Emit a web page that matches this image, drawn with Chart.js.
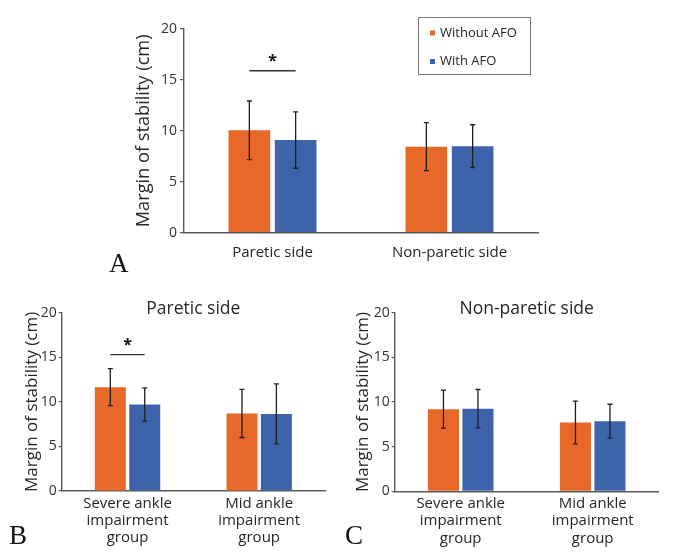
<!DOCTYPE html>
<html>
<head>
<meta charset="utf-8">
<script src="https://cdn.jsdelivr.net/npm/chart.js@4.4.1/dist/chart.umd.min.js"></script>
<style>
  body { margin: 0; background: #fff; }
  #wrap { position: relative; width: 676px; height: 557px; overflow: hidden; }
  canvas { position: absolute; }
  .panel { position: absolute; font-family: "Liberation Serif", "Times New Roman", serif; font-size: 27px; color: #111; line-height: 1; }
</style>
</head>
<body>
<div id="wrap">
  <canvas id="chartA" style="left:0;top:0"></canvas>
  <canvas id="chartB" style="left:0;top:290px"></canvas>
  <canvas id="chartC" style="left:338px;top:290px"></canvas>
  <div class="panel" style="left:109px;top:250px">A</div>
  <div class="panel" style="left:9px;top:522px">B</div>
  <div class="panel" style="left:345px;top:522px">C</div>
</div>
<script>
// data (mean and SD of margin of stability, cm)
const seriesNames = ['Without AFO', 'With AFO'];
const seriesColors = ['#E8682A', '#3D64AB'];

const sideLabels = ['Paretic side', 'Non-paretic side'];
const sideWithout = [10.05, 8.45];
const sideWith = [9.1, 8.5];
const sideWithoutSD = [2.88, 2.35];
const sideWithSD = [2.77, 2.1];

const groupLabels = [['Severe ankle', 'impairment', 'group'], ['Mid ankle', 'impairment', 'group']];
const pareticWithout = [11.65, 8.7];
const pareticWith = [9.7, 8.65];
const pareticWithoutSD = [2.08, 2.7];
const pareticWithSD = [1.87, 3.37];

const nonPareticWithout = [9.2, 7.7];
const nonPareticWith = [9.25, 7.85];
const nonPareticWithoutSD = [2.12, 2.4];
const nonPareticWithSD = [2.15, 1.9];

const yTicks = [0, 5, 10, 15, 20];
const FONT = '"Open Sans", "Noto Sans", sans-serif';
const AXIS = '#5a5a5a';
const TEXT = '#262626';

// error bars drawn from the sd arrays through the y scale
const errorBars = {
  id: 'errorBars',
  afterDatasetsDraw(chart) {
    const ctx = chart.ctx, y = chart.scales.y;
    ctx.save();
    ctx.strokeStyle = '#1e1e1e';
    ctx.lineWidth = 1.3;
    chart.data.datasets.forEach((ds, i) => {
      chart.getDatasetMeta(i).data.forEach((bar, j) => {
        const top = y.getPixelForValue(ds.data[j] + ds.sd[j]);
        const bot = y.getPixelForValue(ds.data[j] - ds.sd[j]);
        ctx.beginPath();
        ctx.moveTo(bar.x, top); ctx.lineTo(bar.x, bot);
        ctx.moveTo(bar.x - 2.5, top); ctx.lineTo(bar.x + 2.5, top);
        ctx.moveTo(bar.x - 2.5, bot); ctx.lineTo(bar.x + 2.5, bot);
        ctx.stroke();
      });
    });
    ctx.restore();
  }
};

// significance bracket + asterisk
const sigMark = {
  id: 'sigMark',
  afterDraw(chart, args, opts) {
    if (!opts.level) return;
    const ctx = chart.ctx, y = chart.scales.y;
    const a = chart.getDatasetMeta(0).data[opts.index];
    const b = chart.getDatasetMeta(1).data[opts.index];
    const py = y.getPixelForValue(opts.level);
    ctx.save();
    ctx.strokeStyle = '#333';
    ctx.lineWidth = 1.3;
    ctx.beginPath();
    ctx.moveTo(a.x, py); ctx.lineTo(b.x, py);
    ctx.stroke();
    ctx.fillStyle = '#111';
    ctx.font = 'bold 16px ' + FONT;
    ctx.textAlign = 'center';
    ctx.textBaseline = 'middle';
    ctx.fillText('*', (a.x + b.x) / 2, py - 9);
    ctx.restore();
  }
};

// panel title centred over the plot area
const panelTitle = {
  id: 'panelTitle',
  afterDraw(chart, args, opts) {
    if (!opts.text) return;
    const ctx = chart.ctx, area = chart.chartArea;
    ctx.save();
    ctx.fillStyle = TEXT;
    ctx.font = '17.5px ' + FONT;
    ctx.textAlign = 'center';
    ctx.textBaseline = 'middle';
    ctx.fillText(opts.text, (area.left + area.right) / 2, area.top - 4);
    ctx.restore();
  }
};

// boxed legend in the top right of panel A
const boxLegend = {
  id: 'boxLegend',
  afterDraw(chart, args, opts) {
    if (!opts.show) return;
    const ctx = chart.ctx;
    ctx.save();
    ctx.strokeStyle = '#7a7a7a';
    ctx.lineWidth = 1;
    ctx.strokeRect(418.5, 17.5, 112, 57);
    ctx.font = '13px ' + FONT;
    ctx.textBaseline = 'middle';
    chart.data.datasets.forEach((ds, i) => {
      const cy = 33 + i * 28.5;
      ctx.fillStyle = ds.backgroundColor;
      ctx.fillRect(430, cy - 2.5, 5, 5);
      ctx.fillStyle = TEXT;
      ctx.fillText(ds.label, 440, cy);
    });
    ctx.restore();
  }
};

function makeChart(id, w, h, labels, without, withAfo, sdWithout, sdWith, cfg) {
  const canvas = document.getElementById(id);
  canvas.width = w; canvas.height = h;
  canvas.style.width = w + 'px'; canvas.style.height = h + 'px';
  return new Chart(canvas, {
    type: 'bar',
    data: {
      labels: labels,
      datasets: [
        { label: seriesNames[0], data: without, sd: sdWithout, backgroundColor: seriesColors[0] },
        { label: seriesNames[1], data: withAfo, sd: sdWith, backgroundColor: seriesColors[1] }
      ]
    },
    options: {
      responsive: false,
      animation: false,
      devicePixelRatio: 1,
      layout: { padding: cfg.padding },
      categoryPercentage: 0.523,
      barPercentage: 0.9,
      plugins: {
        legend: { display: false },
        tooltip: { enabled: false },
        sigMark: cfg.sig || {},
        panelTitle: { text: cfg.title },
        boxLegend: { show: !!cfg.legend }
      },
      scales: {
        x: {
          grid: { display: false },
          border: { color: AXIS, width: 1.4 },
          ticks: {
            color: TEXT, padding: cfg.xPad, maxRotation: 0, autoSkip: false,
            font: { family: FONT, size: 15, lineHeight: 1.15 }
          },
          afterFit: s => { s.height = cfg.xHeight; }
        },
        y: {
          min: 0, max: 20,
          afterBuildTicks: s => { s.ticks = yTicks.map(v => ({ value: v })); },
          grid: { drawOnChartArea: false, tickLength: cfg.tickLen, color: AXIS, lineWidth: 1.2 },
          border: { color: AXIS, width: 1.4 },
          ticks: { color: '#333', padding: cfg.tickPad, font: { family: FONT, size: 14 } },
          title: {
            display: true, text: 'Margin of stability (cm)', color: TEXT,
            font: { family: FONT, size: cfg.yTitleSize }, padding: { top: 4, bottom: 4 }
          },
          afterFit: s => { s.width = cfg.yWidth; }
        }
      }
    },
    plugins: [errorBars, sigMark, panelTitle, boxLegend]
  });
}

makeChart('chartA', 676, 290, sideLabels, sideWithout, sideWith, sideWithoutSD, sideWithSD, {
  padding: { left: 128.5, right: 138, top: 29, bottom: 17.3 },
  yWidth: 55.5, xHeight: 40, xPad: 3.7, tickLen: 4, tickPad: 3, yTitleSize: 18.2,
  legend: true, sig: { index: 0, level: 15.9 }
});

makeChart('chartB', 338, 267, groupLabels, pareticWithout, pareticWith, pareticWithoutSD, pareticWithSD, {
  padding: { left: 17.8, right: 13, top: 22.7, bottom: 6 },
  yWidth: 43.9, xHeight: 60, xPad: -4, tickLen: 3, tickPad: 2, yTitleSize: 17,
  title: 'Paretic side', sig: { index: 0, level: 15.3 }
});

makeChart('chartC', 338, 267, groupLabels, nonPareticWithout, nonPareticWith, nonPareticWithoutSD, nonPareticWithSD, {
  padding: { left: 10.5, right: 17.3, top: 22.7, bottom: 5.7 },
  yWidth: 46.2, xHeight: 60, xPad: -4, tickLen: 3, tickPad: 2, yTitleSize: 17,
  title: 'Non-paretic side'
});
</script>
</body>
</html>
